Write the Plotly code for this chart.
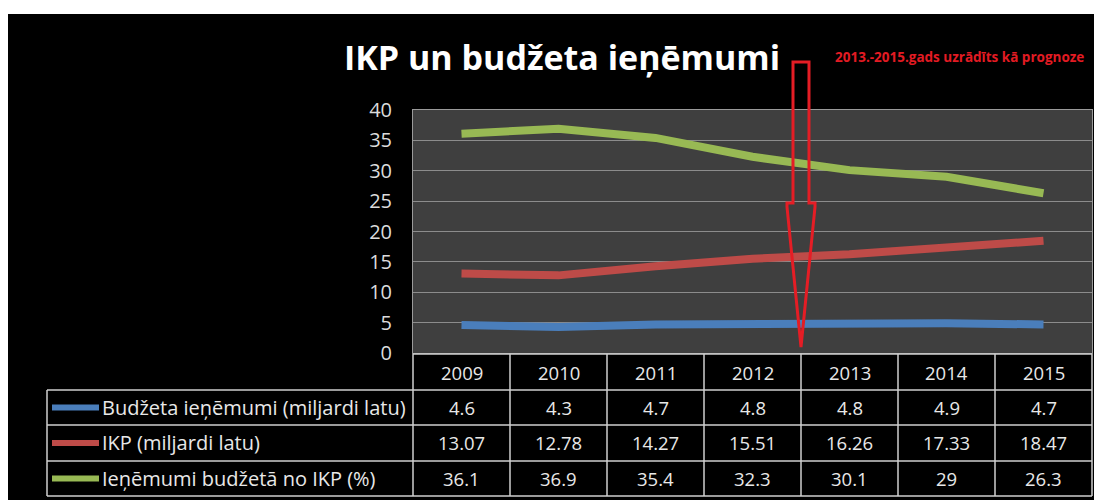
import plotly.graph_objects as go

years = ["2009", "2010", "2011", "2012", "2013", "2014", "2015"]
budget = [4.6, 4.3, 4.7, 4.8, 4.8, 4.9, 4.7]
gdp = [13.07, 12.78, 14.27, 15.51, 16.26, 17.33, 18.47]
share = [36.1, 36.9, 35.4, 32.3, 30.1, 29, 26.3]
series_names = ["Budžeta ieņēmumi (miljardi latu)", "IKP (miljardi latu)", "Ieņēmumi budžetā no IKP (%)"]
series_colors = ["#4a7ebb", "#be4b48", "#98b954"]
y_ticks = [0, 5, 10, 15, 20, 25, 30, 35, 40]
title_text = "IKP un budžeta ieņēmumi"
note_text = "2013.-2015.gads uzrādīts kā prognoze"

OFF = 8  # page body margin
W, H = 1104 - OFF, 500 - OFF
L, R, T, B = 413 - OFF, 1104 - 1092, 110 - OFF, 500 - 353
PW, PH = W - L - R, H - T - B
FONT = "Open Sans"


def px(x):  # page pixel x -> paper
    return (x - OFF - L) / PW


def py(y):  # page pixel y -> paper
    return (H - B - (y - OFF)) / PH


n = len(years)
fig = go.Figure()
all_series = [budget, gdp, share]
for name, vals, col in zip(series_names, all_series, series_colors):
    fig.add_trace(go.Scatter(x=years, y=vals, mode="lines", name=name,
                             line=dict(color=col, width=8),
                             showlegend=False, hoverinfo="x+y"))

shapes = []
annotations = []

# white page border outside the black slide
for (x0, y0, x1, y1) in [(0, 0, 1104, 14), (1094, 0, 1104, 500)]:
    shapes.append(dict(type="rect", xref="paper", yref="paper", x0=px(x0), x1=px(x1),
                       y0=py(y1), y1=py(y0), fillcolor="white", line=dict(width=0), layer="below"))

# table
tcol = "#cfcfcf"
col_edges = [k / n for k in range(n + 1)]
header_top, row_lines = 354, [390, 425, 461, 496]
shapes.append(dict(type="line", xref="paper", yref="paper", x0=0, x1=1, y0=py(header_top), y1=py(header_top),
                   line=dict(color=tcol, width=1.5)))
for yy in row_lines:
    shapes.append(dict(type="line", xref="paper", yref="paper", x0=px(47), x1=1, y0=py(yy), y1=py(yy),
                       line=dict(color=tcol, width=1.5)))
for ce in col_edges:
    shapes.append(dict(type="line", xref="paper", yref="paper", x0=ce, x1=ce, y0=py(header_top), y1=py(row_lines[-1]),
                       line=dict(color=tcol, width=1.5)))
shapes.append(dict(type="line", xref="paper", yref="paper", x0=px(47), x1=px(47), y0=py(row_lines[0]), y1=py(row_lines[-1]),
                   line=dict(color=tcol, width=1.5)))

nfont = dict(family=FONT, size=18.5, color="#e8e8e8")
lfont = dict(family=FONT, size=20, color="#e8e8e8")
for i, yr in enumerate(years):
    annotations.append(dict(text=yr, xref="paper", yref="paper", x=(i + 0.5) / n, y=py((header_top + row_lines[0]) / 2),
                            showarrow=False, font=nfont, xanchor="center", yanchor="middle"))
for r, (name, vals, col) in enumerate(zip(series_names, all_series, series_colors)):
    yc = (row_lines[r] + row_lines[r + 1]) / 2
    shapes.append(dict(type="line", xref="paper", yref="paper", x0=px(52), x1=px(99), y0=py(yc), y1=py(yc),
                       line=dict(color=col, width=6)))
    annotations.append(dict(text=name, xref="paper", yref="paper", x=px(100), y=py(yc), showarrow=False,
                            font=lfont, xanchor="left", yanchor="middle"))
    for i, v in enumerate(vals):
        annotations.append(dict(text=f"{v:g}", xref="paper", yref="paper", x=(i + 0.5) / n, y=py(yc),
                                showarrow=False, font=nfont, xanchor="center", yanchor="middle"))

# red outline arrow
pts = [(793, 62), (809, 62), (809, 203), (815, 203), (815, 207), (801, 347), (787, 207), (787, 203), (793, 203)]
path = "M " + " L ".join(f"{px(a):.5f},{py(b):.5f}" for a, b in pts) + " Z"
shapes.append(dict(type="path", xref="paper", yref="paper", path=path, line=dict(color="#e51d25", width=3),
                   fillcolor="rgba(0,0,0,0)", layer="above"))

annotations.append(dict(text=f"<b>{title_text}</b>", xref="paper", yref="paper", x=px(562), y=py(57),
                        showarrow=False, font=dict(family=FONT, size=34, color="white"),
                        xanchor="center", yanchor="middle"))
annotations.append(dict(text=f"<b>{note_text}</b>", xref="paper", yref="paper", x=px(959), y=py(57),
                        showarrow=False, font=dict(family=FONT, size=13.5, color="#e31b23"),
                        xanchor="center", yanchor="middle"))

fig.update_layout(
    width=W, height=H, margin=dict(l=L, r=R, t=T, b=B),
    paper_bgcolor="black", plot_bgcolor="#3f3f3f",
    shapes=shapes, annotations=annotations,
    xaxis=dict(type="category", range=[-0.5, n - 0.5], showticklabels=False, showgrid=False,
               showline=True, mirror=True, linecolor="#9a9a9a", linewidth=1, zeroline=False, fixedrange=True),
    yaxis=dict(range=[0, 40], tickvals=y_ticks, showgrid=True, gridcolor="#8c8c8c", gridwidth=1,
               showline=True, mirror=True, linecolor="#9a9a9a", linewidth=1, zeroline=False,
               tickfont=dict(family=FONT, size=20, color="#dcdcdc"), ticklabelstandoff=16, fixedrange=True),
)

fig.write_html("out.html")
